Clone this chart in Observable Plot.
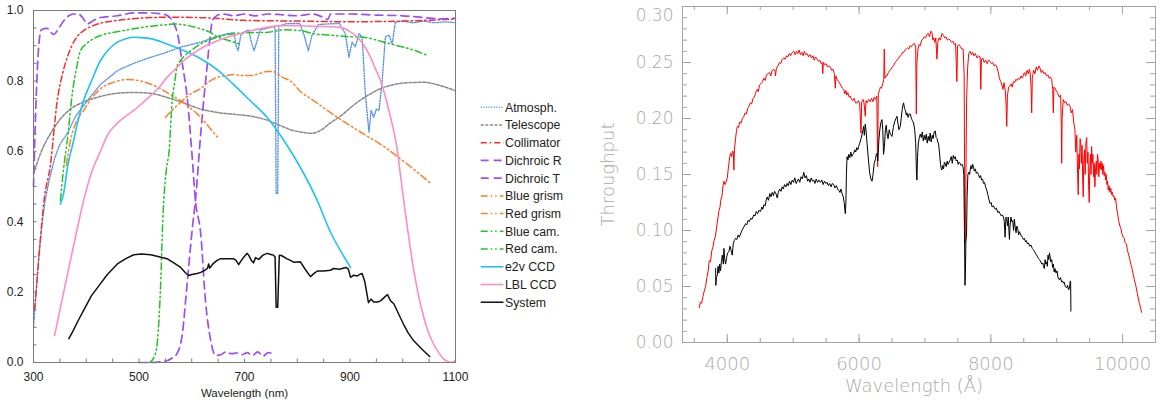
<!DOCTYPE html>
<html><head><meta charset="utf-8">
<script src="https://cdn.jsdelivr.net/npm/d3@7"></script>
<script src="https://cdn.jsdelivr.net/npm/@observablehq/plot@0.6"></script>
<style>
html,body{margin:0;padding:0;background:#fff;}
#wrap{position:relative;width:1160px;height:406px;overflow:hidden;background:#fff;}
#wrap svg{position:absolute;top:0;}
</style></head><body><div id="wrap"></div>
<script>
// ---------- LEFT PANEL DATA: [wavelength nm, transmission] ----------
const atmos = [[300,.10],[305,.2],[310,.3],[315,.38],[322,.46],[330,.52],[340,.58],[350,.62],[364,.65],[380,.70],[400,.74],[427,.79],[460,.83],[490,.85],[522,.867],[550,.88],[579,.896],[617,.91],[645,.925],[670,.935],[680,.937],[684,.90],[688,.886],[693,.93],[700,.94],[708,.945],[713,.91],[718,.886],[723,.91],[730,.945],[745,.95],[755,.955],[758,.95],[760,.48],[763,.48],[765,.955],[780,.963],[805,.963],[813,.93],[821,.886],[828,.93],[840,.96],[860,.962],[880,.963],[891,.934],[898,.867],[904,.91],[910,.897],[917,.934],[923,.925],[929,.765],[936,.654],[940,.716],[945,.697],[950,.72],[955,.716],[961,.80],[967,.925],[974,.93],[980,.905],[986,.967],[1000,.97],[1020,.965],[1040,.97],[1060,.965],[1080,.968],[1100,.965]];
const telescope = [[300,.537],[315,.60],[332,.65],[350,.69],[370,.72],[395,.74],[430,.757],[460,.765],[490,.767],[520,.765],[553,.753],[585,.737],[617,.72],[650,.71],[680,.705],[711,.70],[740,.69],[768,.673],[790,.66],[806,.655],[825,.651],[845,.66],[862,.68],[882,.70],[910,.735],[935,.76],[958,.778],[985,.79],[1010,.795],[1040,.796],[1070,.787],[1100,.772]];
const collimator = [[302,.15],[306,.22],[312,.33],[320,.46],[332,.56],[345,.744],[355,.82],[364,.867],[380,.92],[395,.943],[410,.955],[427,.964],[460,.972],[500,.978],[560,.981],[630,.979],[700,.972],[800,.97],[900,.968],[1000,.97],[1100,.976]];
const dichroicR = [[300,.50],[305,.75],[310,.90],[315,.945],[326,.949],[338,.932],[348,.95],[357,.97],[367,.985],[375,.99],[385,.99],[393,.98],[402,.962],[412,.97],[427,.98],[459,.985],[490,.993],[520,.993],[545,.99],[560,.978],[567,.96],[573,.934],[582,.85],[592,.744],[600,.60],[607,.46],[617,.366],[626,.176],[636,.062],[645,.02],[655,.022],[665,.03],[675,.025],[685,.027],[695,.022],[705,.028],[715,.02],[725,.03],[735,.018],[745,.028],[750,.027]];
const dichroicT = [[500,0],[520,0],[540,.002],[553,.005],[565,.015],[572,.025],[582,.08],[591,.22],[601,.38],[607,.46],[617,.65],[623,.75],[629,.84],[635,.93],[639,.97],[648,.986],[660,.99],[680,.985],[700,.99],[720,.985],[745,.99],[770,.988],[800,.985],[830,.99],[850,.98],[858,.975],[863,.99],[870,.99],[900,.99],[950,.987],[1000,.985],[1040,.98],[1070,.976],[1100,.978]];
const blueGrism = [[362,.56],[370,.63],[380,.68],[395,.716],[410,.75],[427,.778],[450,.795],[478,.804],[502,.80],[520,.792],[541,.778],[560,.76],[579,.744],[600,.72],[617,.696],[635,.665],[651,.636]];
const redGrism = [[550,.696],[565,.72],[579,.739],[600,.765],[617,.778],[635,.80],[648,.81],[665,.815],[679,.818],[695,.815],[711,.815],[727,.82],[743,.827],[757,.825],[772,.81],[787,.80],[806,.77],[831,.744],[863,.71],[895,.678],[925,.65],[958,.62],[990,.585],[1020,.55],[1052,.51]];
const blueCam = [[351,.46],[357,.55],[364,.63],[374,.77],[382,.84],[389,.886],[400,.905],[427,.929],[460,.94],[490,.948],[520,.955],[553,.96],[567,.962],[590,.958],[617,.948],[635,.938],[648,.926],[670,.915],[690,.905]];
const redCam = [[520,0],[530,.02],[535,.0625],[541,.22],[545,.40],[547,.46],[552,.55],[557,.60],[563,.744],[568,.80],[572,.84],[580,.86],[591,.877],[605,.893],[617,.905],[632,.915],[648,.924],[679,.934],[710,.937],[743,.938],[775,.945],[806,.943],[831,.934],[863,.93],[895,.926],[926,.924],[960,.912],[990,.90],[1020,.888],[1047,.872]];
const e2vCCD = [[351,.45],[357,.48],[365,.56],[376,.63],[385,.69],[395,.744],[410,.80],[427,.858],[440,.885],[459,.91],[475,.92],[490,.924],[505,.923],[522,.92],[553,.905],[585,.886],[617,.863],[650,.83],[679,.79],[710,.745],[743,.696],[775,.63],[806,.554],[838,.46],[863,.37],[885,.31],[901,.27]];
const lblCCD = [[340,.077],[360,.22],[380,.36],[395,.46],[410,.54],[427,.60],[440,.645],[459,.68],[475,.70],[490,.716],[505,.735],[522,.758],[540,.785],[553,.81],[570,.835],[585,.858],[600,.875],[617,.892],[650,.915],[679,.929],[710,.942],[743,.952],[768,.957],[800,.957],[831,.955],[860,.954],[882,.952],[900,.94],[914,.924],[927,.90],[939,.867],[948,.835],[958,.80],[968,.75],[977,.696],[984,.65],[990,.60],[995,.54],[1001,.47],[1010,.37],[1020,.27],[1030,.19],[1040,.128],[1050,.08],[1058,.054],[1068,.028],[1077,.011],[1085,.003],[1092,0],[1100,.006]];
const system = [[367,.068],[375,.09],[385,.12],[395,.148],[410,.19],[427,.224],[440,.25],[459,.28],[475,.295],[490,.306],[505,.308],[522,.306],[540,.30],[553,.295],[566,.283],[579,.27],[588,.255],[594,.247],[600,.25],[610,.253],[617,.256],[625,.262],[630,.268],[632,.28],[634,.268],[640,.28],[648,.29],[655,.295],[668,.295],[679,.295],[684,.29],[689,.278],[694,.29],[700,.302],[705,.31],[708,.305],[713,.29],[717,.283],[721,.298],[727,.293],[735,.305],[743,.31],[750,.307],[755,.305],[758,.30],[760,.157],[763,.157],[766,.305],[770,.304],[780,.295],[787,.29],[793,.285],[806,.286],[815,.265],[825,.244],[832,.253],[838,.26],[850,.26],[863,.262],[869,.267],[880,.265],[892,.27],[897,.265],[901,.242],[907,.248],[914,.246],[918,.25],[923,.253],[928,.23],[935,.17],[940,.18],[945,.172],[952,.172],[958,.175],[965,.185],[971,.193],[977,.175],[983,.167],[990,.145],[1001,.11],[1010,.085],[1020,.063],[1035,.04],[1051,.017]];

const leftNames = ["Atmosph.","Telescope","Collimator","Dichroic R","Dichroic T","Blue grism","Red grism","Blue cam.","Red cam.","e2v CCD","LBL CCD","System"];
const leftSeries = [atmos, telescope, collimator, dichroicR, dichroicT, blueGrism, redGrism, blueCam, redCam, e2vCCD, lblCCD, system];
const leftXTicks = [300,500,700,900,1100];
const leftXMinor = d3.range(300, 1101, 50);
const leftYTicks = [0,0.2,0.4,0.6,0.8,1.0];
const leftYMinor = d3.range(0, 21).map(i => i*0.05);
const leftXLabel = "Wavelength (nm)";

// ---------- RIGHT PANEL DATA: [wavelength Å, throughput] ----------
const redSpec = [[3575,.031],[3590,.036],[3610,.035],[3630,.041],[3650,.046],[3670,.050],[3690,.058],[3710,.064],[3725,.073],[3745,.072],[3765,.082],[3785,.086],[3800,.091],[3820,.095],[3840,.104],[3860,.112],[3875,.118],[3890,.121],[3900,.127],[3920,.131],[3935,.140],[3950,.144],[3965,.141],[3980,.143],[4000,.147],[4020,.158],[4035,.165],[4050,.169],[4065,.166],[4080,.171],[4092,.170],[4100,.154],[4108,.172],[4125,.182],[4140,.189],[4152,.193],[4170,.192],[4190,.197],[4210,.196],[4230,.200],[4252,.202],[4270,.205],[4290,.204],[4310,.209],[4330,.211],[4350,.214],[4370,.213],[4390,.218],[4410,.219],[4430,.223],[4455,.226],[4470,.224],[4490,.230],[4510,.231],[4535,.233],[4555,.236],[4575,.234],[4595,.239],[4615,.240],[4640,.241],[4660,.238],[4680,.243],[4706,.244],[4725,.242],[4732,.238],[4745,.245],[4770,.247],[4790,.250],[4810,.249],[4835,.253],[4858,.254],[4880,.253],[4900,.256],[4920,.255],[4940,.258],[4960,.256],[4985,.259],[5009,.260],[5030,.257],[5050,.260],[5070,.258],[5090,.261],[5110,.257],[5130,.259],[5150,.256],[5170,.260],[5190,.257],[5212,.258],[5235,.255],[5255,.257],[5280,.254],[5300,.256],[5320,.252],[5340,.255],[5364,.253],[5385,.251],[5405,.252],[5425,.249],[5440,.250],[5449,.240],[5458,.250],[5480,.248],[5500,.249],[5520,.246],[5545,.247],[5565,.246],[5585,.243],[5605,.244],[5625,.240],[5640,.227],[5648,.238],[5667,.235],[5690,.233],[5710,.231],[5730,.229],[5750,.227],[5767,.226],[5785,.222],[5800,.225],[5815,.221],[5830,.223],[5850,.219],[5868,.220],[5885,.217],[5905,.216],[5925,.218],[5945,.214],[5970,.214],[5990,.216],[6010,.213],[6030,.187],[6040,.215],[6060,.217],[6075,.214],[6095,.202],[6105,.216],[6125,.214],[6145,.217],[6171,.215],[6190,.218],[6210,.215],[6230,.219],[6250,.217],[6270,.220],[6282,.157],[6292,.222],[6310,.225],[6323,.228],[6340,.227],[6360,.231],[6375,.235],[6383,.262],[6392,.236],[6410,.238],[6424,.238],[6445,.241],[6465,.243],[6485,.244],[6505,.246],[6525,.247],[6545,.250],[6565,.251],[6585,.253],[6605,.254],[6625,.256],[6645,.257],[6660,.259],[6676,.259],[6695,.261],[6715,.262],[6735,.263],[6755,.262],[6775,.265],[6795,.264],[6815,.266],[6840,.267],[6860,.264],[6869,.204],[6878,.250],[6895,.262],[6910,.266],[6929,.265],[6950,.270],[6970,.271],[6990,.273],[7010,.272],[7030,.275],[7050,.276],[7070,.273],[7090,.278],[7106,.277],[7120,.270],[7135,.272],[7150,.268],[7165,.272],[7182,.253],[7195,.268],[7215,.272],[7235,.270],[7260,.276],[7283,.274],[7300,.272],[7320,.273],[7340,.270],[7360,.271],[7384,.270],[7405,.268],[7425,.269],[7445,.266],[7465,.267],[7485,.233],[7495,.265],[7515,.266],[7540,.264],[7561,.262],[7580,.262],[7595,.240],[7605,.120],[7611,.089],[7620,.130],[7632,.215],[7648,.245],[7665,.258],[7687,.260],[7705,.257],[7725,.259],[7745,.256],[7765,.258],[7790,.254],[7815,.256],[7838,.255],[7848,.226],[7858,.253],[7880,.254],[7900,.250],[7920,.252],[7945,.249],[7965,.252],[7990,.251],[8010,.249],[8030,.250],[8050,.247],[8070,.248],[8091,.246],[8110,.242],[8130,.236],[8150,.233],[8167,.230],[8185,.226],[8200,.232],[8220,.225],[8232,.213],[8242,.193],[8252,.220],[8270,.228],[8290,.229],[8310,.231],[8325,.228],[8343,.233],[8360,.232],[8380,.235],[8400,.234],[8420,.236],[8440,.235],[8460,.238],[8480,.236],[8494,.239],[8510,.241],[8530,.238],[8550,.243],[8570,.240],[8585,.244],[8595,.242],[8610,.230],[8621,.205],[8630,.236],[8650,.243],[8670,.240],[8690,.246],[8710,.243],[8730,.247],[8747,.245],[8765,.241],[8785,.243],[8805,.240],[8825,.241],[8848,.238],[8865,.239],[8885,.236],[8905,.237],[8924,.235],[8940,.226],[8949,.205],[8958,.228],[8975,.227],[9000,.224],[9020,.222],[9040,.219],[9060,.221],[9070,.195],[9076,.160],[9082,.200],[9100,.217],[9120,.214],[9140,.215],[9160,.212],[9180,.213],[9202,.211],[9220,.205],[9240,.208],[9260,.196],[9277,.190],[9290,.170],[9305,.185],[9318,.150],[9327,.132],[9336,.168],[9345,.155],[9355,.182],[9364,.180],[9375,.160],[9385,.176],[9395,.145],[9403,.130],[9412,.165],[9422,.172],[9432,.150],[9443,.178],[9455,.183],[9465,.160],[9475,.170],[9485,.140],[9494,.125],[9503,.158],[9512,.168],[9522,.150],[9530,.175],[9540,.160],[9550,.168],[9560,.148],[9570,.160],[9580,.139],[9590,.155],[9600,.162],[9610,.150],[9620,.168],[9630,.163],[9640,.148],[9650,.160],[9660,.155],[9672,.162],[9682,.154],[9692,.160],[9702,.150],[9712,.158],[9722,.149],[9732,.152],[9742,.145],[9752,.150],[9762,.141],[9772,.144],[9782,.136],[9795,.140],[9808,.134],[9820,.138],[9835,.132],[9846,.134],[9858,.130],[9870,.131],[9882,.127],[9895,.129],[9910,.120],[9925,.115],[9940,.109],[9959,.104],[9975,.102],[9990,.097],[10010,.094],[10025,.093],[10040,.089],[10060,.088],[10075,.082],[10090,.079],[10111,.074],[10125,.070],[10140,.067],[10161,.061],[10180,.056],[10200,.051],[10220,.045],[10237,.040],[10255,.035],[10270,.032],[10288,.027]];
const blackSpec = [[3823,.066],[3826,.051],[3835,.058],[3848,.060],[3860,.068],[3873,.062],[3885,.070],[3898,.064],[3910,.072],[3925,.078],[3940,.070],[3949,.084],[3960,.075],[3974,.070],[3990,.076],[4005,.080],[4024,.081],[4040,.086],[4055,.083],[4075,.078],[4090,.088],[4105,.091],[4126,.093],[4145,.092],[4165,.096],[4182,.094],[4202,.097],[4220,.100],[4240,.102],[4260,.104],[4277,.106],[4295,.105],[4315,.109],[4335,.108],[4355,.111],[4375,.110],[4403,.114],[4420,.113],[4440,.117],[4460,.115],[4480,.118],[4505,.117],[4525,.121],[4540,.119],[4555,.123],[4575,.122],[4590,.127],[4606,.130],[4625,.127],[4645,.133],[4662,.130],[4682,.134],[4700,.131],[4718,.135],[4738,.133],[4758,.129],[4775,.134],[4795,.137],[4815,.135],[4833,.139],[4850,.137],[4870,.141],[4890,.139],[4909,.142],[4925,.140],[4945,.144],[4965,.141],[4985,.145],[5005,.143],[5025,.147],[5045,.142],[5061,.144],[5080,.146],[5100,.143],[5120,.148],[5140,.146],[5161,.152],[5180,.147],[5200,.149],[5220,.144],[5237,.146],[5255,.143],[5275,.147],[5295,.144],[5312,.145],[5330,.142],[5350,.146],[5370,.143],[5390,.145],[5414,.143],[5435,.145],[5455,.141],[5475,.144],[5495,.142],[5515,.143],[5535,.140],[5555,.142],[5575,.139],[5595,.142],[5615,.141],[5635,.138],[5655,.140],[5675,.137],[5691,.136],[5710,.134],[5725,.137],[5742,.133],[5760,.130],[5775,.125],[5785,.118],[5792,.115],[5800,.125],[5808,.150],[5818,.166],[5832,.163],[5845,.168],[5860,.165],[5875,.170],[5890,.166],[5905,.168],[5918,.169],[5935,.172],[5950,.170],[5965,.174],[5980,.172],[5994,.175],[6010,.178],[6030,.182],[6050,.187],[6060,.190],[6070,.193],[6080,.185],[6095,.195],[6108,.188],[6121,.178],[6140,.165],[6160,.152],[6180,.146],[6197,.144],[6212,.150],[6230,.160],[6250,.164],[6262,.168],[6273,.169],[6285,.162],[6300,.180],[6315,.190],[6330,.196],[6348,.199],[6360,.190],[6372,.168],[6385,.175],[6400,.190],[6412,.194],[6424,.187],[6440,.182],[6458,.190],[6475,.186],[6500,.184],[6520,.192],[6540,.197],[6560,.200],[6576,.202],[6590,.196],[6605,.190],[6626,.193],[6640,.200],[6655,.208],[6666,.212],[6676,.214],[6690,.209],[6705,.207],[6718,.203],[6727,.205],[6745,.201],[6760,.204],[6777,.204],[6795,.200],[6810,.198],[6828,.196],[6845,.190],[6860,.178],[6872,.150],[6879,.145],[6887,.165],[6900,.178],[6915,.183],[6929,.186],[6945,.183],[6960,.188],[6975,.180],[6990,.185],[7005,.181],[7020,.186],[7035,.178],[7050,.184],[7065,.180],[7080,.187],[7095,.179],[7110,.185],[7125,.182],[7140,.188],[7156,.189],[7170,.183],[7185,.182],[7198,.178],[7206,.178],[7220,.170],[7235,.160],[7248,.155],[7257,.154],[7270,.158],[7283,.155],[7295,.161],[7308,.160],[7322,.157],[7338,.162],[7350,.159],[7367,.161],[7384,.163],[7400,.166],[7415,.160],[7430,.167],[7445,.164],[7460,.166],[7475,.162],[7490,.163],[7505,.159],[7520,.161],[7535,.160],[7550,.158],[7565,.159],[7578,.157],[7590,.150],[7600,.100],[7608,.051],[7614,.060],[7622,.090],[7632,.097],[7640,.130],[7652,.150],[7665,.152],[7678,.150],[7687,.154],[7700,.158],[7712,.155],[7725,.159],[7737,.157],[7750,.153],[7765,.155],[7780,.151],[7795,.152],[7813,.150],[7830,.147],[7845,.149],[7860,.145],[7875,.146],[7889,.142],[7905,.143],[7920,.139],[7939,.136],[7955,.132],[7970,.128],[7990,.124],[8005,.125],[8020,.121],[8040,.122],[8066,.119],[8085,.120],[8105,.116],[8125,.117],[8141,.115],[8160,.113],[8175,.114],[8192,.112],[8205,.108],[8217,.094],[8230,.112],[8242,.110],[8255,.104],[8265,.112],[8275,.100],[8283,.092],[8292,.104],[8305,.112],[8318,.108],[8333,.109],[8345,.100],[8358,.110],[8370,.103],[8383,.098],[8395,.104],[8410,.101],[8422,.096],[8434,.099],[8450,.097],[8465,.095],[8480,.094],[8494,.092],[8510,.093],[8525,.090],[8540,.091],[8555,.088],[8570,.089],[8590,.086],[8610,.087],[8630,.084],[8646,.083],[8665,.081],[8685,.079],[8705,.077],[8722,.075],[8740,.074],[8758,.072],[8775,.070],[8790,.071],[8797,.069],[8812,.066],[8825,.074],[8835,.070],[8848,.072],[8858,.068],[8868,.078],[8880,.074],[8890,.080],[8899,.077],[8910,.072],[8925,.074],[8939,.067],[8950,.070],[8962,.063],[8975,.066],[8990,.062],[9005,.064],[9020,.058],[9040,.056],[9058,.058],[9075,.054],[9090,.055],[9100,.053],[9115,.054],[9130,.050],[9152,.049],[9165,.051],[9180,.047],[9192,.048],[9200,.052],[9208,.055],[9212,.054],[9216,.028]];
const rightXTicks = [4000,6000,8000,10000];
const rightXMinor = d3.range(3500, 10501, 500);
const rightYTicks = [0,0.05,0.10,0.15,0.20,0.25,0.30];
const rightYMinor = d3.range(0, 31).map(i => i*0.01);
const rightXLabel = "Wavelength (Å)";
const rightYLabel = "Throughput";

// ---------- STYLES ----------
const leftStyles = [
  {color:"#4f8fe6", width:1.4, dash:"1,1.6", curve:"linear"},
  {color:"#8a8a8a", width:1.5, dash:"3,1.6", curve:"monotone-x"},
  {color:"#ff2a2a", width:1.5, dash:"6,3,1.5,3", curve:"monotone-x"},
  {color:"#9d4df2", width:1.7, dash:"8,5", curve:"monotone-x"},
  {color:"#9d4df2", width:1.7, dash:"8,5", curve:"monotone-x"},
  {color:"#ff7f2a", width:1.5, dash:"7,3,1.5,3,1.5,3", curve:"monotone-x"},
  {color:"#ff7f2a", width:1.5, dash:"7,3,1.5,3,1.5,3", curve:"monotone-x"},
  {color:"#22c422", width:1.5, dash:"7,3,1.5,3,1.5,3", curve:"monotone-x"},
  {color:"#22c422", width:1.5, dash:"7,3,1.5,3,1.5,3", curve:"monotone-x"},
  {color:"#1ec3f2", width:1.6, dash:null, curve:"monotone-x"},
  {color:"#ff8cc6", width:1.6, dash:null, curve:"monotone-x"},
  {color:"#111111", width:1.5, dash:null, curve:"linear"}
];

const wrap = document.getElementById("wrap");

// ---------- LEFT PLOT ----------
const LW = 470, LH = 406, LM = {l:33, r:15, t:10, b:44};
const lpw = LW - LM.l - LM.r, lph = LH - LM.t - LM.b;
const axisGray = "#7a7a7a";
const leftLines = leftSeries.map((data, i) => Plot.line(data, {
  x: d => d[0], y: d => d[1], stroke: leftStyles[i].color, strokeWidth: leftStyles[i].width,
  strokeDasharray: leftStyles[i].dash, curve: leftStyles[i].curve
}));
const left = Plot.plot({
  width: LW, height: LH, marginLeft: LM.l, marginRight: LM.r, marginTop: LM.t, marginBottom: LM.b,
  style: {fontFamily: "'Liberation Sans', Arial, sans-serif", color: "#222", background: "transparent", overflow: "visible"},
  x: {domain: [300, 1100]},
  y: {domain: [0, 1]},
  marks: [
    ...leftLines,
    Plot.frame({stroke: axisGray}),
    Plot.tickX(leftXMinor, {x: d => d, insetTop: lph - 3.5, stroke: axisGray}),
    Plot.tickY(leftYMinor, {y: d => d, insetRight: lpw - 3.5, stroke: axisGray}),
    Plot.axisX(leftXTicks, {tickSize: 0, tickPadding: 10, fontSize: 12, label: null, tickFormat: d => String(d)}),
    Plot.axisY(leftYTicks, {tickSize: 0, tickPadding: 10, fontSize: 12, label: null, tickFormat: d3.format(".1f")}),
    Plot.text([leftXLabel], {text: d => d, frameAnchor: "bottom", lineAnchor: "middle", dy: 31, fontSize: 11.5})
  ]
});
left.style.left = "0px";
wrap.appendChild(left);

// ---------- LEGEND ----------
const leg = d3.create("svg").attr("width", 120).attr("height", 220)
  .style("left", "470px").style("top", "95px")
  .style("font-family", "'Liberation Sans', Arial, sans-serif").style("font-size", "12.3px");
leftNames.forEach((name, i) => {
  const y = 12.3 + i * 17.72;
  leg.append("line").attr("x1", 10.7).attr("x2", 33.5).attr("y1", y).attr("y2", y)
    .attr("stroke", leftStyles[i].color).attr("stroke-width", leftStyles[i].width)
    .attr("stroke-dasharray", leftStyles[i].dash);
  leg.append("text").attr("x", 35).attr("y", y).attr("dy", "0.36em").attr("fill", "#222").text(name);
});
wrap.appendChild(leg.node());

// ---------- RIGHT PLOT ----------
const RW = 570, RH = 406, RM = {l:92, r:5, t:6, b:64};
const rpw = RW - RM.l - RM.r, rph = RH - RM.t - RM.b;
const rGray = "#a3a3a3";
const right = Plot.plot({
  width: RW, height: RH, marginLeft: RM.l, marginRight: RM.r, marginTop: RM.t, marginBottom: RM.b,
  style: {fontFamily: "'DejaVu Sans', sans-serif", fontWeight: "200", color: "#a8a8a8", background: "transparent", overflow: "visible"},
  x: {domain: [3320, 10500]},
  y: {domain: [0, 0.3]},
  marks: [
    Plot.line(redSpec, {x: d => d[0], y: d => d[1], stroke: "#ff0000", strokeWidth: 1}),
    Plot.line(blackSpec, {x: d => d[0], y: d => d[1], stroke: "#000000", strokeWidth: 1}),
    Plot.frame({stroke: rGray}),
    Plot.tickX(rightXMinor, {x: d => d, stroke: rGray, insetTop: rph - 4}),
    Plot.tickX(rightXTicks, {x: d => d, stroke: rGray, insetTop: rph - 8}),
    Plot.tickX(rightXMinor, {x: d => d, stroke: rGray, insetBottom: rph - 4}),
    Plot.tickX(rightXTicks, {x: d => d, stroke: rGray, insetBottom: rph - 8}),
    Plot.tickY(rightYMinor, {y: d => d, stroke: rGray, insetRight: rpw - 5}),
    Plot.tickY(rightYTicks, {y: d => d, stroke: rGray, insetRight: rpw - 9}),
    Plot.tickY(rightYMinor, {y: d => d, stroke: rGray, insetLeft: rpw - 5}),
    Plot.tickY(rightYTicks, {y: d => d, stroke: rGray, insetLeft: rpw - 9}),
    Plot.axisX(rightXTicks, {tickSize: 0, tickPadding: 15, fontSize: 18, label: null, tickFormat: d => String(d)}),
    Plot.axisY(rightYTicks.slice(0, -1), {tickSize: 0, tickPadding: 9, fontSize: 17, label: null, tickFormat: d3.format(".2f")}),
    Plot.text(rightYTicks.slice(-1), {y: d => d, text: d3.format(".2f"), frameAnchor: "left", textAnchor: "end", dx: -9, dy: 9, fontSize: 17}),
    Plot.text([rightYLabel], {text: d => d, frameAnchor: "left", textAnchor: "middle", lineAnchor: "middle", dx: -74, rotate: -90, fontSize: 18}),
    Plot.text([rightXLabel], {text: d => d, frameAnchor: "bottom", textAnchor: "middle", lineAnchor: "middle", dx: -5, dy: 44, fontSize: 18, letterSpacing: 0.5})
  ]
});
right.style.left = "590px";
wrap.appendChild(right);
</script>
</body></html>
